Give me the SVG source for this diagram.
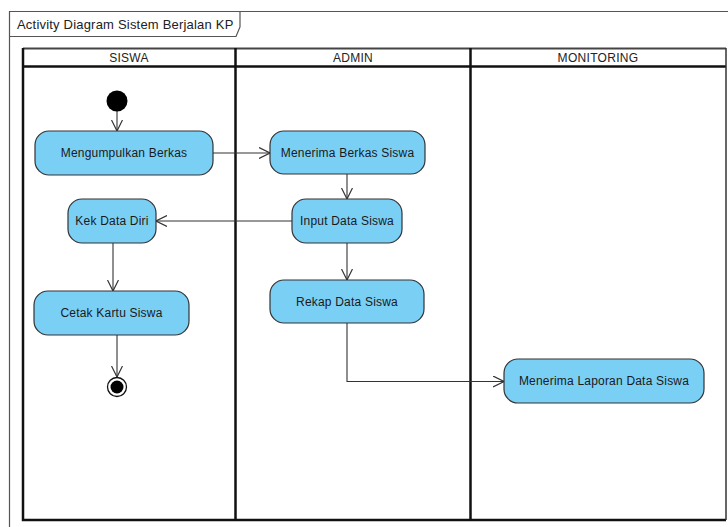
<svg xmlns="http://www.w3.org/2000/svg" width="728" height="527" viewBox="0 0 728 527">
<defs>
<style>
.frame{fill:none;stroke:#555;stroke-width:1.2}
.lane{fill:none;stroke:#111;stroke-width:2.5}
.act{fill:#7acff5;stroke:#333;stroke-width:1.2}
.t{font-family:"Liberation Sans",Arial,sans-serif;font-size:12px;letter-spacing:0.2px;fill:#1a1a1a;text-anchor:middle}
.h{font-family:"Liberation Sans",Arial,sans-serif;font-size:12px;letter-spacing:0.3px;fill:#222;text-anchor:middle}
.c{fill:none;stroke:#333;stroke-width:1.1}
</style>
<marker id="arr" viewBox="0 0 12 12" markerWidth="12" markerHeight="12" refX="11" refY="6" orient="auto" markerUnits="userSpaceOnUse">
<path d="M0,0.5 L11,6 L0,11.5" fill="none" stroke="#333" stroke-width="1.2"/>
</marker>
</defs>
<rect width="728" height="527" fill="#fff"/>
<g id="frame">
<path class="frame" d="M9.5,540 V11.5 H740"/>
<path class="frame" d="M9.5,36.5 H236 L240,27 V11.5"/>
<text x="17" y="28.5" font-family="Liberation Sans,Arial,sans-serif" font-size="13" letter-spacing="0.2" fill="#222">Activity Diagram Sistem Berjalan KP</text>
</g>
<g id="pool">
<line x1="23" y1="48.5" x2="726" y2="48.5" stroke="#444" stroke-width="1.8"/>
<line x1="23" y1="66.5" x2="726" y2="66.5" stroke="#111" stroke-width="2.5"/>
<path class="lane" d="M23,48 V520 H726"/>
<line x1="726" y1="48" x2="726" y2="520" stroke="#333" stroke-width="1.5"/>
<line class="lane" x1="235.5" y1="48" x2="235.5" y2="521"/>
<line class="lane" x1="470.5" y1="48" x2="470.5" y2="521"/>
<text class="h" x="129" y="62">SISWA</text>
<text class="h" x="353" y="62">ADMIN</text>
<text class="h" x="598" y="62">MONITORING</text>
</g>
<g id="connectors">
<line class="c" x1="117" y1="111" x2="117" y2="131" marker-end="url(#arr)"/>
<line class="c" x1="213" y1="153" x2="270" y2="153" marker-end="url(#arr)"/>
<line class="c" x1="347" y1="174" x2="347" y2="199" marker-end="url(#arr)"/>
<line class="c" x1="292" y1="221" x2="156" y2="221" marker-end="url(#arr)"/>
<line class="c" x1="347" y1="243" x2="347" y2="280" marker-end="url(#arr)"/>
<line class="c" x1="113" y1="243" x2="113" y2="291" marker-end="url(#arr)"/>
<line class="c" x1="117" y1="335" x2="117" y2="377" marker-end="url(#arr)"/>
<polyline class="c" points="347,323 347,381.5 504,381.5" marker-end="url(#arr)"/>
</g>
<g id="start">
<circle cx="117" cy="101" r="10.5" fill="#000"/>
</g>
<g id="mengumpulkan">
<rect class="act" x="35" y="131" width="178" height="44" rx="14"/>
<text class="t" x="124" y="157">Mengumpulkan Berkas</text>
</g>
<g id="menerima-berkas">
<rect class="act" x="270" y="131" width="155" height="43" rx="14"/>
<text class="t" x="347.5" y="157">Menerima Berkas Siswa</text>
</g>
<g id="input-data">
<rect class="act" x="292" y="199" width="110" height="44" rx="14"/>
<text class="t" x="347" y="225">Input Data Siswa</text>
</g>
<g id="kek-data">
<rect class="act" x="68" y="199" width="88" height="44" rx="14"/>
<text class="t" x="112" y="225">Kek Data Diri</text>
</g>
<g id="rekap">
<rect class="act" x="270" y="280" width="154" height="43" rx="14"/>
<text class="t" x="347" y="306">Rekap Data Siswa</text>
</g>
<g id="cetak">
<rect class="act" x="34" y="291" width="155" height="44" rx="14"/>
<text class="t" x="111.5" y="317">Cetak Kartu Siswa</text>
</g>
<g id="end">
<circle cx="117" cy="387" r="9.5" fill="#fff" stroke="#111" stroke-width="1.3"/>
<circle cx="117" cy="387" r="6.5" fill="#000"/>
</g>
<g id="menerima-laporan">
<rect class="act" x="504" y="359" width="200" height="44" rx="14"/>
<text class="t" x="604" y="385">Menerima Laporan Data Siswa</text>
</g>
</svg>
